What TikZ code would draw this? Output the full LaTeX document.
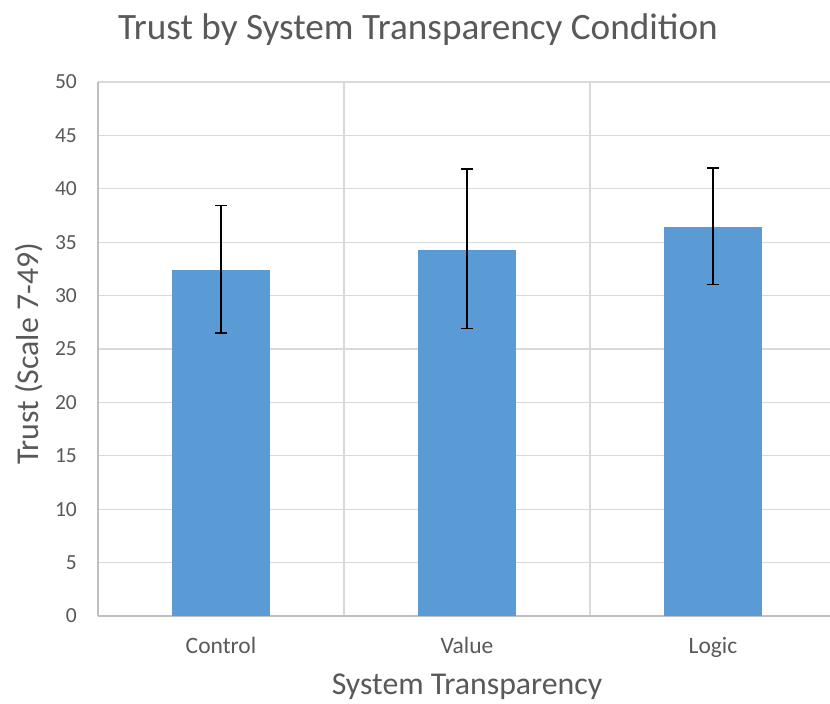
\documentclass[tikz,border=0pt]{standalone}
\usepackage{fontspec}
\setmainfont{Carlito}
\definecolor{barblue}{HTML}{5B9BD5}
\definecolor{gridgray}{HTML}{D9D9D9}
\definecolor{axisgray}{HTML}{BFBFBF}
\definecolor{txtgray}{HTML}{595959}
\begin{document}
\begin{tikzpicture}[x=1pt,y=1pt,
  ticklbl/.style={text=txtgray,font=\fontsize{21.5}{21.5}\selectfont,inner sep=0pt},
  catlbl/.style={text=txtgray,font=\fontsize{23.5}{23.5}\selectfont,inner sep=0pt,anchor=base},
  axtitle/.style={text=txtgray,font=\fontsize{31.8}{31.8}\selectfont,inner sep=0pt},
  bar/.style={fill=barblue,draw=none},
  errbar/.style={draw=black,line width=1.2pt},
  grid/.style={draw=gridgray,line width=1.3pt}]
\useasboundingbox (0,0) rectangle (830,704);
\fill[white] (0,0) rectangle (830,704);
\node[axtitle,anchor=base,font=\fontsize{37.2}{37.2}\selectfont] (title) at (418,664) {Trust by System Transparency Condition};
\begin{scope}[shift={(98,88)},y=10.68pt]
  % horizontal grid
  \foreach \v in {5,10,...,50} \draw[grid] (0,\v) -- (740,\v);
  % vertical grid
  \foreach \xx in {246,492,738} \draw[grid] (\xx,0) -- (\xx,50);
  % axes
  \draw[draw=axisgray,line width=1.3pt] (0,0) -- (740,0);
  \draw[draw=axisgray,line width=1.3pt] (0,0) -- (0,50);
  % tick labels
  \foreach \v in {0,5,...,50} \node[ticklbl,anchor=east] (t\v) at (-21,\v) {\v};
  % bars
  \fill[bar] (74,0) rectangle (172,32.4);
  \fill[bar] (320,0) rectangle (418,34.3);
  \fill[bar] (566,0) rectangle (664,36.45);
  % error bars
  \foreach \c/\lo/\hi in {123/26.5/38.4, 369/26.9/41.85, 615/31.05/41.95} {
    \draw[errbar] (\c,\lo) -- (\c,\hi);
    \draw[errbar] (\c-6,\lo) -- (\c+6,\lo);
    \draw[errbar] (\c-6,\hi) -- (\c+6,\hi);
  }
\end{scope}
\node[catlbl] (c1) at (221,50) {Control};
\node[catlbl] (c2) at (467,50) {Value};
\node[catlbl] (c3) at (713,50) {Logic};
\node[axtitle,anchor=base] (xt) at (467,9) {System Transparency};
\node[axtitle,rotate=90] (yt) at (29,350) {Trust (Scale 7-49)};
\end{tikzpicture}
\end{document}
